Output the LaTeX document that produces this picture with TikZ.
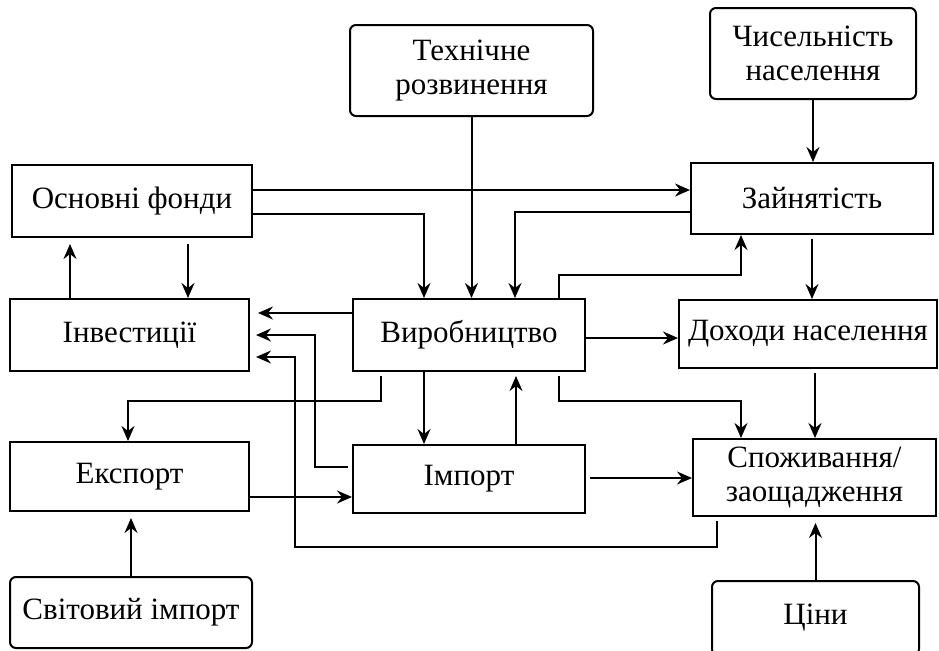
\documentclass[tikz,border=0pt]{standalone}
\usepackage{fontspec}
\setmainfont{Liberation Serif}
\usetikzlibrary{arrows.meta}

\begin{document}
\begin{tikzpicture}[x=0.5pt,y=-0.5pt,line width=1pt,
  every node/.style={font=\fontsize{15.5}{17}\selectfont,align=center,inner sep=0pt},
  blok/.style={draw},
  dzherelo/.style={draw,rounded corners=3pt},
  zv/.style={-{Stealth[length=7.5pt,width=6.5pt,inset=2.5pt]}}]
  \useasboundingbox (0,0) rectangle (939,650);
  % outer factors
  \node[dzherelo,minimum width=121.5pt,minimum height=45.5pt] (teh) at (471.5,70.5) {Технічне\\розвинення};
  \node[dzherelo,minimum width=103pt,minimum height=45.5pt] (chy) at (813,53.5) {Чисельність\\населення};
  \node[dzherelo,minimum width=121pt,minimum height=35.5pt] (svi) at (131,612.5) {Світовий імпорт};
  \node[dzherelo,minimum width=103.5pt,minimum height=37pt] (cin) at (815.5,618) {Ціни};
  % blocks
  \node[blok,minimum width=120pt,minimum height=36pt] (osn) at (132,201) {Основні фонди};
  \node[blok,minimum width=119.5pt,minimum height=36pt] (inv) at (129.5,335) {Інвестиції};
  \node[blok,minimum width=116pt,minimum height=36pt] (vyr) at (469,335) {Виробництво};
  \node[blok,minimum width=121pt,minimum height=35.5pt] (zai) at (812,198.5) {Зайнятість};
  \node[blok,minimum width=129pt,minimum height=34pt] (dok) at (808,334) {Доходи населення};
  \node[blok,minimum width=119.5pt,minimum height=34.5pt] (eks) at (129.5,476.5) {Експорт};
  \node[blok,minimum width=116pt,minimum height=34pt] (imp) at (469,479) {Імпорт};
  \node[blok,minimum width=121.5pt,minimum height=38.5pt] (spo) at (814.5,477.5) {Споживання/\\заощадження};
  % links
  \draw[zv] (teh.south) -- (teh.south |- vyr.north);
  \draw[zv] (chy.south) -- (chy.south |- zai.north);
  \draw[zv] (osn.east |- 0,190) -- (zai.west |- 0,190);
  \draw[zv] (osn.east |- 0,214) -| (vyr.north -| 424,0);
  \draw[zv] (zai.west |- 0,212) -| (vyr.north -| 515,0);
  \draw[zv] (vyr.north -| 559,0) |- (741,275) -- (zai.south -| 741,0);
  \draw[zv,shorten <=2pt] (zai.south) -- (zai.south |- dok.north);
  \draw[zv] (vyr.east |- 0,338) -- (dok.west |- 0,338);
  \draw[zv,shorten >=4pt] (vyr.west |- 0,313) -- (inv.east |- 0,313);
  \draw[zv,shorten <=2pt,shorten >=3pt] (imp.west |- 0,467) -| (315,335) -- (inv.east |- 0,335);
  \draw[zv,shorten <=2pt,shorten >=3pt] (spo.south -| 717,0) |- (295,547) |- (inv.east |- 0,357);
  \draw[zv,shorten <=2pt] (vyr.south -| 381,0) |- (128,401) -- (eks.north -| 128,0);
  \draw[zv] (vyr.south -| 424,0) -- (imp.north -| 424,0);
  \draw[zv,shorten >=2pt] (imp.north -| 516,0) -- (vyr.south -| 516,0);
  \draw[zv,shorten <=2pt] (vyr.south -| 559,0) |- (741,401) -- (spo.north -| 741,0);
  \draw[zv,shorten <=2pt] (dok.south -| 815,0) -- (spo.north -| 815,0);
  \draw[zv] (eks.east |- 0,497) -- (imp.west |- 0,497);
  \draw[zv,shorten <=2pt] (imp.east |- 0,478) -- (spo.west |- 0,478);
  \draw[zv,shorten >=3pt] (svi.north) -- (svi.north |- eks.south);
  \draw[zv,shorten >=3pt] (cin.north) -- (cin.north |- spo.south);
  \draw[zv,shorten >=3pt] (inv.north -| 70,0) -- (osn.south -| 70,0);
  \draw[zv,shorten <=3pt] (osn.south -| 188,0) -- (inv.north -| 188,0);
\end{tikzpicture}
\end{document}
